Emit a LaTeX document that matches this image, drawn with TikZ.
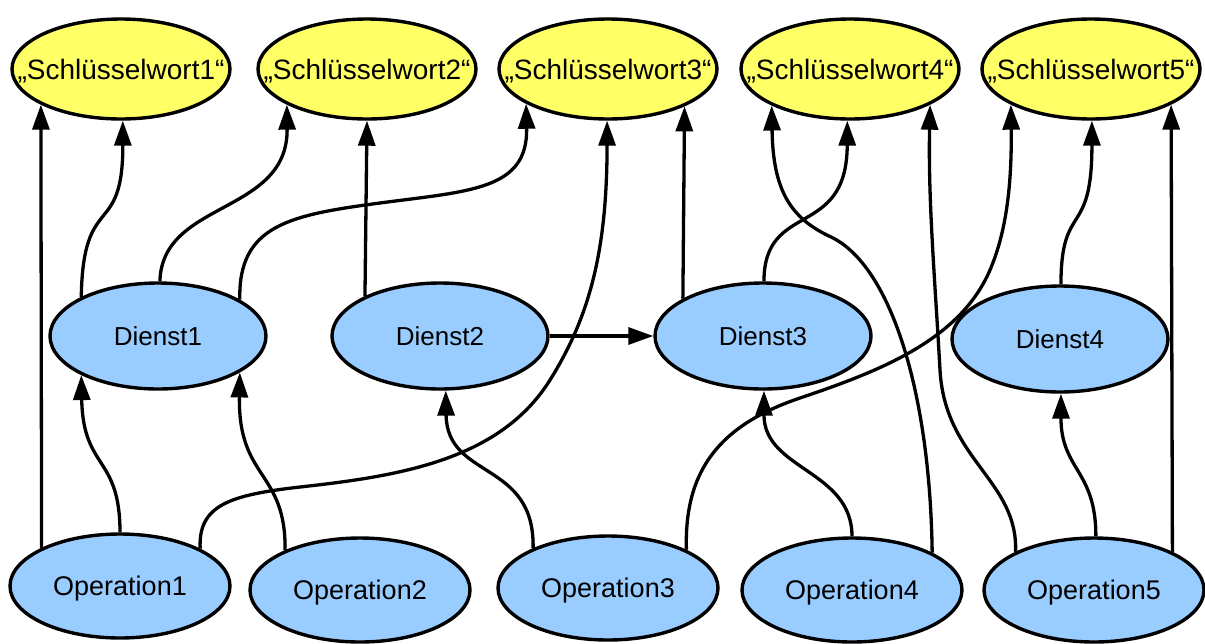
\documentclass[tikz,border=0pt]{standalone}
\usepackage{fontspec}
\setmainfont{Liberation Sans}
\usetikzlibrary{arrows.meta,shapes.geometric}
\definecolor{kwfill}{RGB}{255,255,102}
\definecolor{nodefill}{RGB}{153,204,255}

\begin{document}
\begin{tikzpicture}[x=1pt,y=-1pt,
  base/.style={ellipse, draw=black, line width=3.4pt, inner ysep=0pt,
               text depth=0pt},
  kw/.style={base, fill=kwfill, minimum width=218pt, minimum height=100pt,
             inner xsep=-40pt, text height=20pt,
             font=\fontsize{28}{30}\selectfont},
  svc/.style={base, fill=nodefill, minimum width=216pt, minimum height=106pt,
              inner xsep=0pt, text height=18.7pt,
              font=\fontsize{26}{28}\selectfont},
  op/.style={base, fill=nodefill, minimum width=220pt, minimum height=104pt,
             inner xsep=0pt, text height=19.4pt,
             font=\fontsize{27}{29}\selectfont},
  edge/.style={line width=3.3pt, -{Triangle[length=25pt,width=17pt]}}
]
\useasboundingbox (0,0) rectangle (1205,643);

% keywords
\node[kw] (sw1) at (121,69)  {„Schlüsselwort1“};
\node[kw] (sw2) at (367,69)  {„Schlüsselwort2“};
\node[kw] (sw3) at (608,69)  {„Schlüsselwort3“};
\node[kw] (sw4) at (850,69)  {„Schlüsselwort4“};
\node[kw] (sw5) at (1091,69) {„Schlüsselwort5“};

% services
\node[svc] (d1) at (158,336)  {Dienst1};
\node[svc] (d2) at (440,336)  {Dienst2};
\node[svc] (d3) at (763,336)  {Dienst3};
\node[svc] (d4) at (1060,339) {Dienst4};

% operations
\node[op] (op1) at (120,586)  {Operation1};
\node[op] (op2) at (360,590)  {Operation2};
\node[op] (op3) at (608,588)  {Operation3};
\node[op] (op4) at (852,590)  {Operation4};
\node[op] (op5) at (1094,590) {Operation5};

% service -> keyword / service
\draw[edge] (d1.153) .. controls (83,190) and (123,240) .. (sw1.272);
\draw[edge] (d1.88) .. controls (162,200) and (288,215) .. (sw2.204);
\draw[edge] (d1.24) .. controls (238,225) and (290,215) .. (380,203)
            .. controls (470,191) and (528,190) .. (sw3.203);
\draw[edge] (d2.152) -- (sw2.270);
\draw[edge] (d2.east) -- (d3.west);
\draw[edge] (d3.155) -- (sw3.334);
\draw[edge] (d3.89) .. controls (764,200) and (847,240) .. (sw4.267);
\draw[edge] (d4.89) .. controls (1061,200) and (1092,240) .. (sw5.271);

% operation -> service / keyword
\draw[edge] (op1.154) -- (sw1.204);
\draw[edge] (op1.north) .. controls (120,455) and (83,470) .. (d1.207);
\draw[edge] (op1.25) .. controls (198,505) and (230,495) .. (300,487)
            .. controls (400,476) and (500,460) .. (550,380)
            .. controls (590,316) and (607,250) .. (sw3.269);
\draw[edge] (op2.152) .. controls (286,470) and (238,480) .. (d1.336);
\draw[edge] (op3.152) .. controls (535,460) and (447,480) .. (d2.276);
\draw[edge] (op3.26) .. controls (684,470) and (720,425) .. (800,398)
            .. controls (880,371) and (960,340) .. (990,270)
            .. controls (1005,235) and (1012,190) .. (sw5.204);
\draw[edge] (op4.north) .. controls (852,470) and (764,470) .. (d3.271);
\draw[edge] (op4.25) .. controls (930,390) and (890,265) .. (831,237)
            .. controls (790,218) and (773,190) .. (sw4.205);
\draw[edge] (op5.154) .. controls (1018,480) and (945,460) .. (940,370)
            .. controls (935,280) and (928,200) .. (sw4.336);
\draw[edge] (op5.88) .. controls (1096,470) and (1061,470) .. (d4.271);
\draw[edge] (op5.26) -- (sw5.336);
\end{tikzpicture}
\end{document}
